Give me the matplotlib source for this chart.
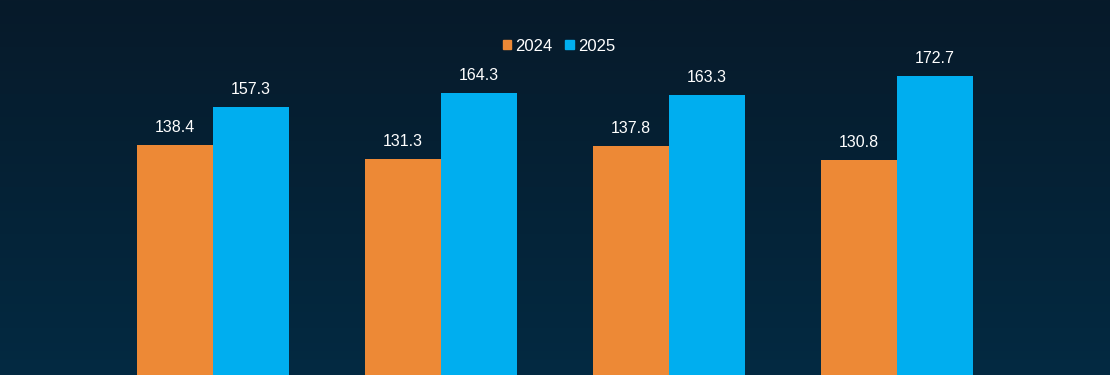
import numpy as np
import matplotlib
matplotlib.use("Agg")
import matplotlib.pyplot as plt
from matplotlib.patches import Patch
from matplotlib.colors import LinearSegmentedColormap

plt.rcParams['font.family'] = ['Liberation Sans', 'DejaVu Sans']

groups = ["Q1", "Q2", "Q3", "Q4"]
series_names = ["2024", "2025"]
values_2024 = [138.4, 131.3, 137.8, 130.8]
values_2025 = [157.3, 164.3, 163.3, 172.7]
colors = ["#ED8936", "#00AEEF"]

fig = plt.figure(figsize=(11.1, 3.75), dpi=100)

# gradient background
bg = fig.add_axes([0, 0, 1, 1], zorder=0)
grad = np.linspace(0, 1, 256).reshape(-1, 1)
cmap = LinearSegmentedColormap.from_list("bg", ["#071a2a", "#032a42"])
bg.imshow(grad, aspect="auto", cmap=cmap, extent=[0, 1, 0, 1], origin="upper")
bg.axis("off")

ax = fig.add_axes([0, 0, 1, 1], zorder=1)
ax.patch.set_alpha(0)
x = np.arange(len(groups))
w = 0.333
b1 = ax.bar(x - w / 2, values_2024, w, color=colors[0], label=series_names[0])
b2 = ax.bar(x + w / 2, values_2025, w, color=colors[1], label=series_names[1])

for bars in (b1, b2):
    for r in bars:
        ax.annotate(f"{r.get_height():.1f}", (r.get_x() + r.get_width() / 2, r.get_height()),
                    xytext=(0, 7), textcoords="offset points", ha="center", va="bottom",
                    color="white", fontsize=11.5)

ax.set_xlim(-0.935, 3.935)
ax.set_ylim(23.9, 210.4)
ax.axis("off")

handles = [Patch(color=colors[0]), Patch(color=colors[1])]
ax.legend(handles, series_names, loc="center", bbox_to_anchor=(0.5036, 0.877), ncol=2,
          frameon=False, labelcolor="white", fontsize=12, handlelength=0.5, handleheight=0.5,
          handletextpad=0.25, columnspacing=0.75)

fig.savefig("out.png", dpi=100)
